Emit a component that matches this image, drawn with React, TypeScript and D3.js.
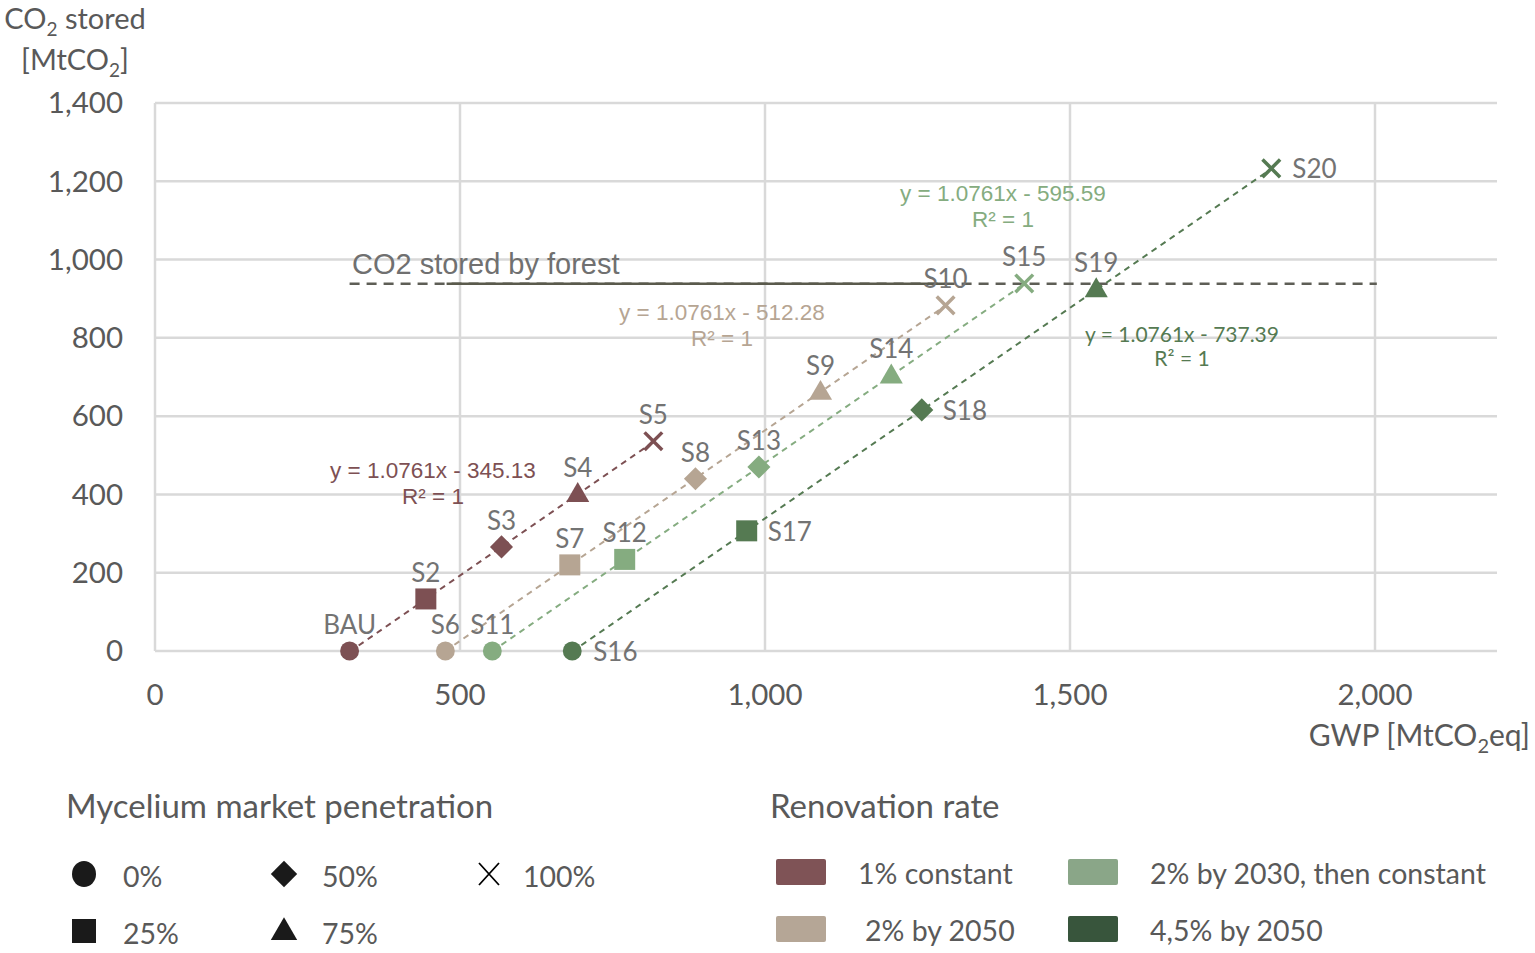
import React, { useEffect } from 'react';
import * as d3 from 'd3';

// scenario points: GWP [MtCO2eq] vs CO2 stored [MtCO2]
const scenarioNames = ['BAU', 'S2', 'S3', 'S4', 'S5', 'S6', 'S7', 'S8', 'S9', 'S10', 'S11', 'S12', 'S13', 'S14', 'S15', 'S16', 'S17', 'S18', 'S19', 'S20'];
const gwpValues = [319, 444, 568, 693, 817, 476, 680, 886, 1091, 1296, 553, 770, 990, 1207, 1425, 684, 970, 1257, 1543, 1830];
const co2Values = [0, 133, 266, 401, 536, 0, 220, 440, 662, 883, 0, 234, 470, 704, 939, 0, 307, 616, 924, 1233];
const penetration = [0, 25, 50, 75, 100, 0, 25, 50, 75, 100, 0, 25, 50, 75, 100, 0, 25, 50, 75, 100];
const renovationGroup = [0, 0, 0, 0, 0, 1, 1, 1, 1, 1, 2, 2, 2, 2, 2, 3, 3, 3, 3, 3];
const labelOnRight = ['S16', 'S17', 'S18', 'S20'];

const renovationLabels = ['1% constant', '2% by 2050', '2% by 2030, then constant', '4,5% by 2050'];
const trendSlopes = [1.0761, 1.0761, 1.0761, 1.0761];
const trendIntercepts = [-345.13, -512.28, -595.59, -737.39];

const penetrationLevels = [0, 50, 100, 25, 75];

// forest reference line
const forestStored = 938;
const forestDashedRange = [319, 2003];
const forestSolidRange = [478, 1296];

const xTicks = [0, 500, 1000, 1500, 2000];
const yTicks = [0, 200, 400, 600, 800, 1000, 1200, 1400];

const markerColors = ['#7d5053', '#b6a593', '#85ac80', '#557a52'];
const swatchColors = ['#7f5356', '#b5a696', '#8aa688', '#38553c'];

const W = 1535;
const H = 953;
const plot = { left: 155, right: 1497, top: 103, bottom: 651 };
const font = 'Lato, "Open Sans", sans-serif';
const eqFont = '"Liberation Sans", Arial, sans-serif';
const textGray = '#595959';
const labelGray = '#737373';

function Marker({ kind, x, y, color, size }: { kind: number; x: number; y: number; color: string; size: number }) {
  const s = size;
  if (kind === 0) return <circle cx={x} cy={y} r={s * 0.45} fill={color} />;
  if (kind === 25) return <rect x={x - s / 2} y={y - s / 2} width={s} height={s} fill={color} />;
  if (kind === 50) {
    const d = s * 0.55;
    return <path d={`M${x},${y - d}L${x + d},${y}L${x},${y + d}L${x - d},${y}Z`} fill={color} />;
  }
  if (kind === 75) {
    const h = s * 0.95;
    return <path d={`M${x},${y - h * 0.6}L${x + s * 0.55},${y + h * 0.4}L${x - s * 0.55},${y + h * 0.4}Z`} fill={color} />;
  }
  const d = s * 0.42;
  return (
    <path
      d={`M${x - d},${y - d}L${x + d},${y + d}M${x + d},${y - d}L${x - d},${y + d}`}
      stroke={color}
      strokeWidth={3.5}
      fill="none"
    />
  );
}

const eqPositions = [
  { x: 433, y: 478, fs: 22.5, ff: eqFont },
  { x: 722, y: 320, fs: 22.5, ff: eqFont },
  { x: 1003, y: 201, fs: 22.5, ff: eqFont },
  { x: 1182, y: 342, fs: 21, ff: font },
];

export default function App() {
  useEffect(() => {
    document.body.style.margin = '0';
  }, []);

  const x = d3.scaleLinear().domain([0, 2200]).range([plot.left, plot.right]);
  const y = d3.scaleLinear().domain([0, 1400]).range([plot.bottom, plot.top]);
  const fmt = d3.format(',');

  const trendLines = renovationLabels.map((_, g) => {
    const xs = gwpValues.filter((_, i) => renovationGroup[i] === g);
    const x0 = d3.min(xs) as number;
    const x1 = d3.max(xs) as number;
    const line = d3.line<number>()
      .x((v) => x(v))
      .y((v) => y(trendSlopes[g] * v + trendIntercepts[g]));
    return line([x0, x1]) as string;
  });

  return (
    <svg width={W} height={H} style={{ display: 'block', background: '#fff' }}>
      {/* grid */}
      {yTicks.map((t) => (
        <line key={`gy${t}`} x1={plot.left} x2={plot.right} y1={y(t)} y2={y(t)} stroke="#d9d9d9" strokeWidth={2.5} />
      ))}
      {xTicks.map((t) => (
        <line key={`gx${t}`} x1={x(t)} x2={x(t)} y1={plot.top} y2={plot.bottom} stroke="#d9d9d9" strokeWidth={2.5} />
      ))}

      {/* tick labels */}
      {yTicks.map((t) => (
        <text key={`ty${t}`} x={123} y={y(t)} dy="0.35em" textAnchor="end" fontFamily={font} fontSize={29.5} fill={textGray}>
          {fmt(t)}
        </text>
      ))}
      {xTicks.map((t) => (
        <text key={`tx${t}`} x={x(t)} y={705} textAnchor="middle" fontFamily={font} fontSize={29.5} fill={textGray}>
          {fmt(t)}
        </text>
      ))}

      {/* axis titles */}
      <text x={75} y={29} textAnchor="middle" fontFamily={font} fontSize={29} fill={textGray}>
        CO<tspan fontSize={19} dy={7}>2</tspan><tspan dy={-7}> stored</tspan>
      </text>
      <text x={75} y={70} textAnchor="middle" fontFamily={font} fontSize={29} fill={textGray}>
        [MtCO<tspan fontSize={19} dy={7}>2</tspan><tspan dy={-7}>]</tspan>
      </text>
      <text x={1530} y={746} textAnchor="end" fontFamily={font} fontSize={30} fill={textGray}>
        GWP [MtCO<tspan fontSize={20} dy={7}>2</tspan><tspan dy={-7}>eq]</tspan>
      </text>

      {/* forest reference */}
      <line x1={x(forestDashedRange[0])} x2={x(forestDashedRange[1])} y1={y(forestStored)} y2={y(forestStored)}
        stroke="#5e5e56" strokeWidth={2.5} strokeDasharray="10,7" />
      <line x1={x(forestSolidRange[0])} x2={x(forestSolidRange[1])} y1={y(forestStored)} y2={y(forestStored)}
        stroke="#5a5a4c" strokeWidth={2.5} />
      <text x={352} y={274} fontFamily={eqFont} fontSize={29} fill="#707070">CO2 stored by forest</text>

      {/* trend lines */}
      {trendLines.map((d, g) => (
        <path key={`tl${g}`} d={d} fill="none" stroke={markerColors[g]} strokeWidth={2} strokeDasharray="6,5" />
      ))}

      {/* trend equations */}
      {eqPositions.map((p, g) => (
        <g key={`eq${g}`} fontFamily={p.ff} fontSize={p.fs} fill={markerColors[g]} textAnchor="middle">
          <text x={p.x} y={p.y}>{`y = ${trendSlopes[g]}x - ${Math.abs(trendIntercepts[g]).toFixed(2)}`}</text>
          <text x={p.x} y={p.y + p.fs * 1.15}>R² = 1</text>
        </g>
      ))}

      {/* points */}
      {scenarioNames.map((name, i) => (
        <Marker key={name} kind={penetration[i]} x={x(gwpValues[i])} y={y(co2Values[i])}
          color={markerColors[renovationGroup[i]]} size={21} />
      ))}
      {scenarioNames.map((name, i) => {
        const px = x(gwpValues[i]);
        const py = y(co2Values[i]);
        const right = labelOnRight.includes(name);
        return (
          <text key={`l${name}`} x={right ? px + 21 : px} y={right ? py + 10 : py - 17}
            textAnchor={right ? 'start' : 'middle'} fontFamily={font} fontSize={26} fill={labelGray}>
            {name}
          </text>
        );
      })}

      {/* legend: penetration */}
      <text x={66} y={818} fontFamily={font} fontSize={33} fill={textGray}>Mycelium market penetration</text>
      {penetrationLevels.map((kind, i) => {
        const col = i < 3 ? i : i - 3;
        const row = i < 3 ? 0 : 1;
        const cx = [84, 284, 489][col];
        const cy = [874, 931][row];
        const tx = [123, 322, 523][col];
        return (
          <g key={`lp${kind}`}>
            {kind === 100 ? (
              <path d={`M${cx - 10},${cy - 11}L${cx + 10},${cy + 11}M${cx + 10},${cy - 11}L${cx - 10},${cy + 11}`}
                stroke="#000" strokeWidth={1.8} />
            ) : kind === 0 ? (
              <ellipse cx={cx} cy={cy} rx={12} ry={13} fill="#1a1a1a" />
            ) : (
              <Marker kind={kind} x={cx} y={cy} color="#1a1a1a" size={24} />
            )}
            <text x={tx} y={cy + 2} dy="0.38em" fontFamily={font} fontSize={28.5} fill={textGray}>{`${kind}%`}</text>
          </g>
        );
      })}

      {/* legend: renovation */}
      <text x={770} y={818} fontFamily={font} fontSize={33} fill={textGray}>Renovation rate</text>
      {renovationLabels.map((lab, g) => {
        const col = g === 0 || g === 1 ? 0 : 1;
        const row = g === 0 || g === 2 ? 0 : 1;
        const sx = [776, 1068][col];
        const sy = [859, 916][row];
        const tx = [[858, 865], [1150, 1150]][col][row];
        return (
          <g key={`lr${g}`}>
            <rect x={sx} y={sy} width={50} height={26} rx={2} fill={swatchColors[g]} />
            <text x={tx} y={sy + 14} dy="0.38em" fontFamily={font} fontSize={28.5} fill={textGray}>{lab}</text>
          </g>
        );
      })}
    </svg>
  );
}
